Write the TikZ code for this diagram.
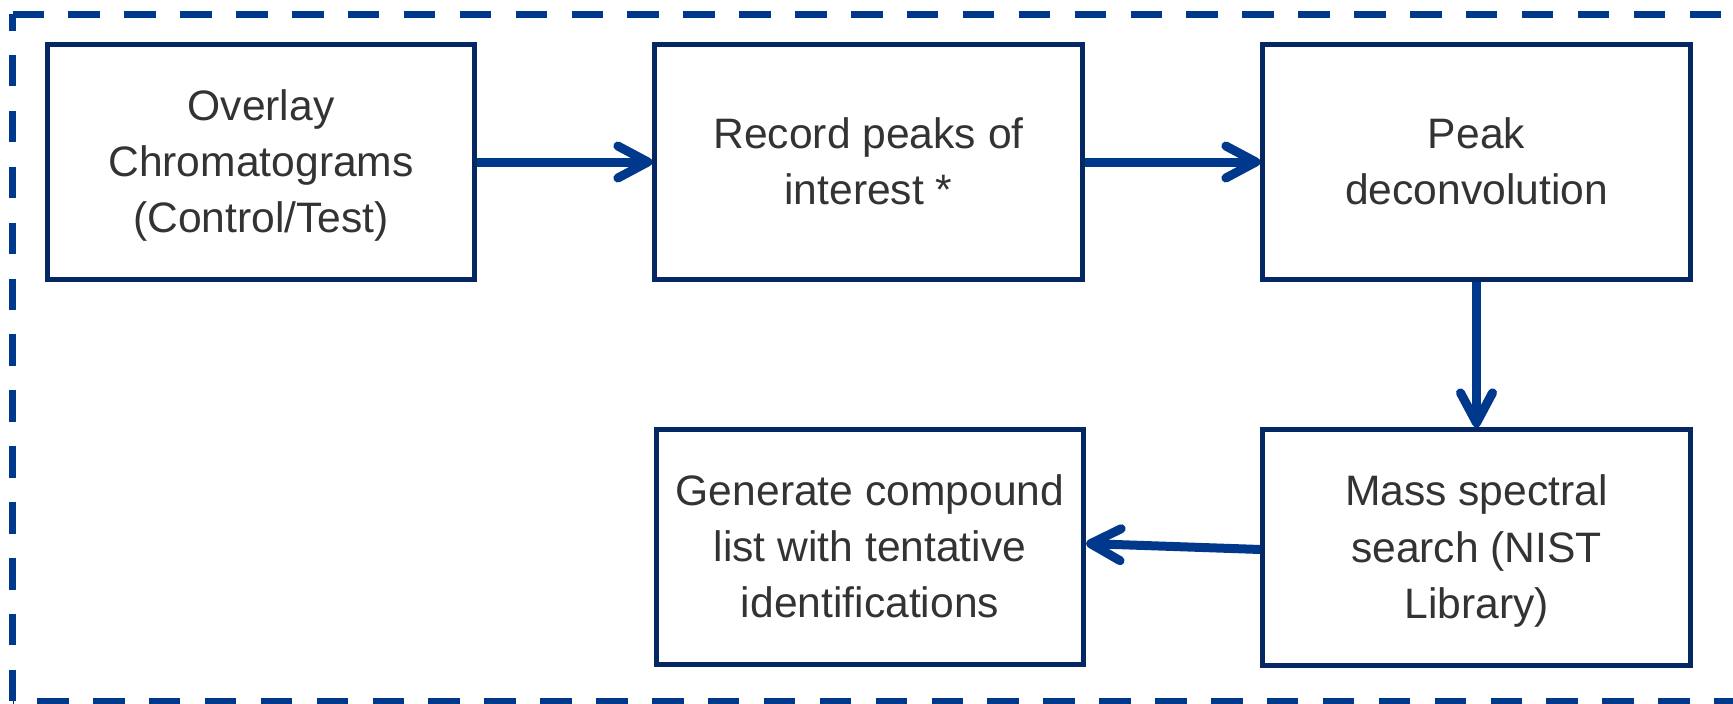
\documentclass[tikz,border=0pt]{standalone}
\usepackage{fontspec}
\setmainfont{Liberation Sans}
\usetikzlibrary{arrows.meta}
\definecolor{boxblue}{RGB}{5,40,100}
\definecolor{arrblue}{RGB}{0,56,140}
\definecolor{txtgray}{RGB}{51,51,51}
\newcommand{\mystrut}{\rule[-10pt]{0pt}{49pt}}
\begin{document}
\begin{tikzpicture}[x=1pt,y=-1pt,
  stepbox/.style={draw=boxblue, line width=4.8pt, minimum width=427.5pt, minimum height=235.5pt,
    inner sep=0pt, align=center, text=txtgray, font=\fontsize{42.6}{56.3}\selectfont},
  flow/.style={draw=arrblue, line width=9pt, -{Straight Barb[length=30pt,width=32pt,round]}},
  borderline/.style={draw=arrblue, line width=7pt, dash pattern=on 31.5pt off 24.4pt}]
\useasboundingbox (0,0) rectangle (1733,704);
\clip (0,0) rectangle (1733,704);
% dashed frame
\draw[borderline] (12.5,14) -- (1740,14);
\draw[borderline, dash phase=15pt] (12.5,14) -- (12.5,710);
\draw[borderline, dash phase=31.3pt] (12.5,701.5) -- (1740,701.5);
% boxes
\node[stepbox] (b1) at (261,162) {\mystrut Overlay\\\mystrut Chromatograms\\\mystrut (Control/Test)};
\node[stepbox] (b2) at (868.5,162) {\mystrut Record peaks of\\\mystrut interest *};
\node[stepbox] (b3) at (1476.5,162) {\mystrut Peak\\\mystrut deconvolution};
\node[stepbox] (b4) at (1476.5,547.5) {\mystrut Mass spectral\\\mystrut search (NIST\\\mystrut Library)};
\node[stepbox] (b5) at (870,547) {\mystrut Generate compound\\\mystrut list with tentative\\\mystrut identifications};
% connectors
\draw[flow] (b1.east) -- (b2.west);
\draw[flow] (b2.east) -- (b3.west);
\draw[flow] (b3.south) -- (b4.north);
\draw[flow] ([yshift=-2pt]b4.west) -- ([yshift=3.5pt]b5.east);
\end{tikzpicture}
\end{document}
